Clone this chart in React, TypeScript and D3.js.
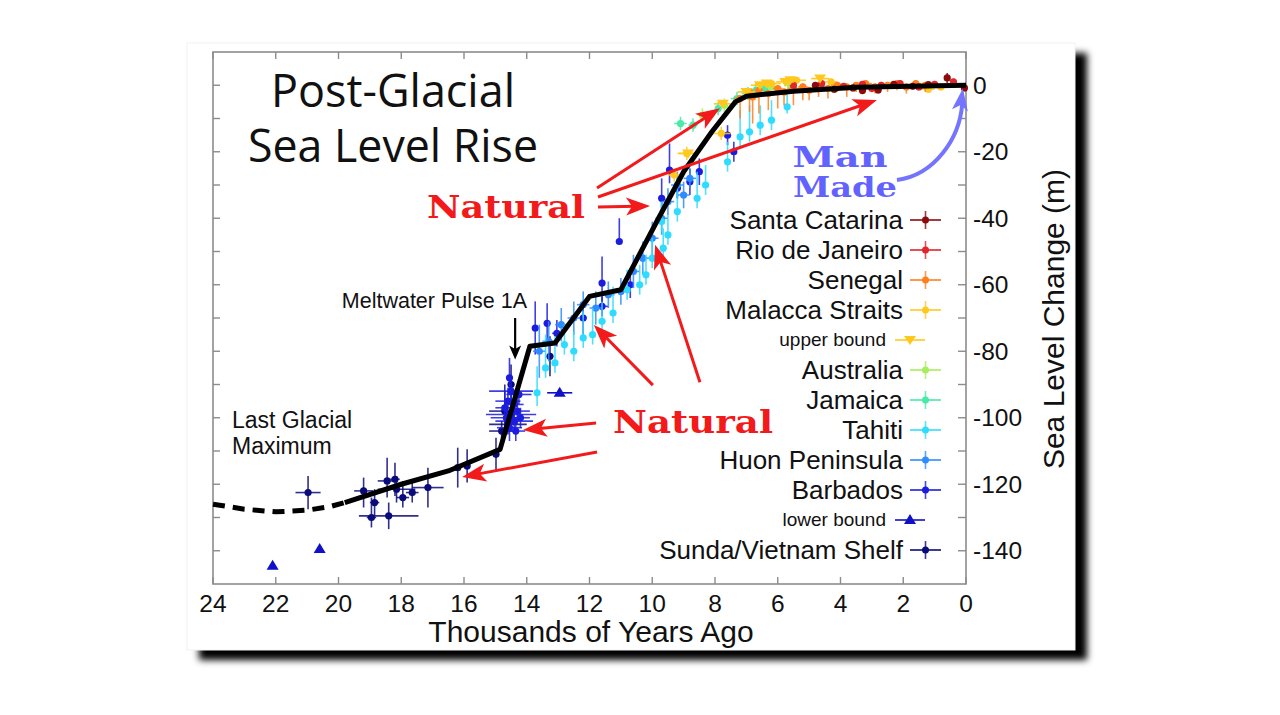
import React from "react";
import * as d3 from "d3";

type Pt = [number, number, number, number, number]; // age(ka), level(m), xErr, yErrUp, yErrDown

const xTicks = [24, 22, 20, 18, 16, 14, 12, 10, 8, 6, 4, 2, 0];
const yLabelTicks = [0, -20, -40, -60, -80, -100, -120, -140];
const yMinorTicks = [0, -10, -20, -30, -40, -50, -60, -70, -80, -90, -100, -110, -120, -130, -140];

const curveDashed: [number, number][] = [
  [24, -126], [23, -127.5], [22, -128.3], [21, -127.8], [20.3, -126.8], [19.8, -125.5],
];
const curveSolid: [number, number][] = [
  [19.8, -125.5], [18, -120], [16.5, -116], [14.85, -109.5], [13.9, -78.5], [13.1, -77.5],
  [12.0, -63.5], [11.0, -61.5], [9.8, -40], [9.0, -26], [8.1, -14], [7.35, -5], [7.0, -3.3],
  [5.5, -1.8], [3.5, -0.6], [0, 0],
];

const santaCatarina: Pt[] = [
  [4.8, 0, 0.1, 1, 1], [4.2, -1.2, 0.1, 1, 1], [3.6, -0.8, 0.1, 1, 1], [3.3, -1.6, 0.1, 1, 1],
  [2.8, -1.4, 0.1, 1, 1], [2.3, 0.3, 0.1, 1, 1], [1.7, -0.3, 0.1, 1, 1], [1.2, 0.2, 0.1, 1, 1],
  [0.6, 2.2, 0.1, 1.5, 1.5], [0.05, -0.8, 0.1, 1, 1],
];
const rioDeJaneiro: Pt[] = [
  [5.5, 0, 0.1, 1, 1], [4.6, 0.5, 0.1, 1, 1], [3.9, -0.3, 0.1, 1, 1], [3.0, -1, 0.1, 1, 1],
  [3.3, 0.3, 0.1, 1, 1], [2.7, 0, 0.1, 1, 1], [2.1, 0.5, 0.1, 1, 1], [1.5, -0.5, 0.1, 1, 1],
  [1.0, 0.3, 0.1, 1, 1], [0.4, 1, 0.1, 1, 1],
];
const senegal: Pt[] = [
  [7.2, -4, 0.2, 1, 6], [6.9, -2, 0.15, 1, 6], [6.8, -3.5, 0.2, 1, 8], [6.6, -1.5, 0.15, 1, 7],
  [6.3, -2.5, 0.2, 1, 5], [6.0, -1, 0.15, 1, 6], [5.8, -2, 0.2, 1, 4], [5.5, -1, 0.2, 1, 5],
  [5.2, -0.5, 0.15, 1, 4], [5.0, -1.5, 0.2, 1, 3], [4.7, -0.5, 0.2, 1, 3], [4.4, -1, 0.15, 1, 3],
  [4.1, 0, 0.2, 1, 2], [3.8, -0.5, 0.2, 1, 3], [3.5, 0, 0.15, 1, 2], [3.2, 0.5, 0.2, 1, 2],
  [2.9, -0.5, 0.15, 1, 2], [2.5, 0, 0.2, 1, 2], [2.2, 0.5, 0.15, 1, 2], [1.9, -0.5, 0.2, 1, 2],
  [1.6, 0.5, 0.15, 1, 1], [1.3, 0, 0.2, 1, 2],
];
const malacca: Pt[] = [
  [9.3, -27, 0.2, 2, 2], [8.9, -20.5, 0.3, 2, 2], [7.8, -14.5, 0.3, 2, 2], [6.2, 0.5, 0.3, 1, 1],
  [5.4, 1.5, 0.3, 1, 1], [4.3, 1, 0.2, 1, 1], [1.2, -1.2, 0.2, 1, 1], [0.8, -0.5, 0.2, 1, 1],
];
const upperBound: [number, number][] = [
  [8.86, -20.5], [7.75, -5.6], [7.0, -2], [6.57, 0], [6.35, 0.5], [5.76, 1], [5.6, 1.5], [4.65, 2],
];
const australia: Pt[] = [
  [8.4, -9, 0.15, 2, 2], [7.7, -6, 0.1, 2, 2], [6.2, -0.5, 0.2, 1, 1], [5.6, 0, 0.2, 1, 1],
];
const jamaica: Pt[] = [
  [9.1, -11.5, 0.2, 2, 2], [8.7, -12, 0.15, 2, 2], [7.9, -7, 0.1, 2, 2], [7.3, -4, 0.2, 2, 2],
  [6.95, -2.5, 0.2, 2, 2], [6.7, -1.5, 0.2, 2, 2], [6.4, -1, 0.2, 1, 1],
];
const tahiti: Pt[] = [
  [13.67, -92.5, 0.05, 8, 4], [13.4, -85, 0.05, 10, 3], [13.1, -83.5, 0.05, 8, 3], [12.8, -78, 0.05, 6, 3],
  [12.5, -80, 0.05, 6, 3], [12.2, -76, 0.05, 8, 3], [11.9, -75, 0.05, 8, 3], [11.6, -71, 0.05, 6, 3],
  [11.25, -68.5, 0.05, 8, 3], [10.8, -61.5, 0.05, 6, 3], [10.4, -60, 0.05, 6, 3], [10.2, -57, 0.05, 6, 3],
  [10.0, -52, 0.05, 6, 3], [9.65, -49, 0.05, 6, 3], [9.5, -45, 0.05, 6, 3], [9.7, -41, 0.05, 6, 3],
  [9.2, -38, 0.05, 8, 3], [8.57, -34, 0.05, 8, 3], [8.3, -30, 0.05, 6, 3], [7.6, -23, 0.05, 6, 3],
  [7.2, -15.5, 0.05, 8, 3], [6.9, -14, 0.05, 8, 3], [6.56, -12, 0.05, 6, 3], [6.2, -10.5, 0.05, 6, 3],
  [5.7, -6.5, 0.05, 5, 2],
];
const huon: Pt[] = [
  [13.6, -80, 0.2, 8, 8], [13.3, -77, 0.2, 6, 6], [12.9, -72, 0.2, 5, 5], [12.5, -70, 0.2, 5, 5],
  [12.2, -66, 0.2, 4, 4], [11.8, -67, 0.2, 5, 5], [11.4, -63, 0.2, 4, 4], [11.0, -62, 0.2, 4, 4],
  [10.6, -56, 0.2, 5, 5], [10.3, -52, 0.2, 5, 5], [10.0, -46, 0.2, 5, 5], [9.7, -40, 0.2, 5, 5],
  [9.5, -35, 0.2, 4, 4], [9.2, -30, 0.2, 4, 4], [9.0, -33, 0.2, 4, 4], [8.8, -28, 0.2, 3, 3],
];
const barbados: Pt[] = [
  [14.55, -88, 0.1, 6, 4], [14.5, -92, 0.7, 3, 3], [14.6, -95, 0.4, 4, 4], [14.4, -96, 0.3, 3, 3],
  [14.5, -99, 0.8, 3, 3], [14.3, -98, 0.4, 4, 4], [14.65, -100, 0.5, 3, 3], [14.4, -101, 0.6, 3, 3],
  [14.2, -100, 0.3, 3, 3], [14.55, -103, 0.4, 4, 4], [14.35, -104, 0.3, 3, 3], [14.7, -97, 0.3, 5, 5],
  [14.25, -93, 0.4, 3, 3], [13.73, -73, 0.05, 8, 8], [13.35, -71.6, 0.1, 6, 6], [13.04, -74.6, 0.15, 4, 4],
  [12.2, -70, 0.1, 5, 5], [11.6, -66.5, 0.2, 3, 3], [11.6, -59.5, 0.1, 8, 8], [11.05, -47, 0.05, 7, 0],
  [10.7, -60, 0.1, 4, 4], [9.7, -34, 0.1, 6, 6], [9.45, -25.5, 0.1, 8, 4], [9.2, -31, 0.1, 3, 3],
  [8.8, -29, 0.1, 4, 4], [8.5, -26, 0.1, 4, 4], [7.6, -15, 0.1, 3, 3], [7.4, -20, 0.1, 3, 3],
];
const lowerBound: [number, number, number][] = [
  [22.1, -144.5, 0], [20.6, -139.5, 0], [12.95, -92.5, 0.4],
];
const sunda: Pt[] = [
  [20.97, -122.5, 0.4, 5, 5], [19.2, -122, 0.3, 4, 5], [18.85, -125.5, 0.15, 4, 4], [18.95, -130, 0.15, 6, 3],
  [18.45, -119, 0.3, 7, 5], [18.4, -129.5, 0.95, 4, 4], [18.2, -118.5, 0.15, 5, 5], [18.15, -121.5, 0.6, 4, 4],
  [17.95, -124, 0.2, 5, 3], [17.65, -122.5, 0.2, 3, 3], [17.15, -121, 0.5, 6, 6], [16.2, -115, 0.1, 6, 6],
  [15.9, -114.5, 0.1, 5, 5], [14.98, -111, 0.1, 5, 5], [14.7, -98, 0.5, 8, 8], [14.6, -102, 0.6, 3, 3],
  [14.5, -90, 0.1, 6, 6], [14.8, -104, 0.4, 3, 3], [13.26, -81.5, 0.1, 6, 6],
];

const legendNames = [
  "Santa Catarina", "Rio de Janeiro", "Senegal", "Malacca Straits", "upper bound", "Australia",
  "Jamaica", "Tahiti", "Huon Peninsula", "Barbados", "lower bound", "Sunda/Vietnam Shelf",
];
const legendColors = [
  "#8b0a0a", "#e3242b", "#ff7f1e", "#ffc81e", "#ffc81e", "#a6ee5a",
  "#48eaa8", "#2fdcff", "#2e8cff", "#1c1ce0", "#1010c8", "#0a0a7a",
];
const legendKinds = ["pt", "pt", "pt", "pt", "down", "pt", "pt", "pt", "pt", "pt", "up", "pt"];

// annotation arrows in data coordinates: [tailAge, tailLevel, headAge, headLevel]
const redArrows: [number, number, number, number][] = [
  [11.76, -30.9, 7.84, -6.9],
  [11.73, -33.6, 2.84, -4.4],
  [11.73, -36.6, 10.07, -36.3],
  [9.98, -90.2, 11.86, -72.1],
  [8.48, -89.3, 9.91, -48.0],
  [11.79, -101.6, 14.12, -103.7],
  [11.76, -110.3, 16.06, -117.8],
];

const x = d3.scaleLinear().domain([24, 0]).range([213, 966]);
const y = d3.scaleLinear().domain([10, -150]).range([52, 584]);

function arrowHead(x1: number, y1: number, x2: number, y2: number, len: number, half: number) {
  const a = Math.atan2(y2 - y1, x2 - x1);
  const bx = x2 - len * Math.cos(a);
  const by = y2 - len * Math.sin(a);
  const nx = -Math.sin(a), ny = Math.cos(a);
  return `M${x2},${y2}L${bx + nx * half},${by + ny * half}L${bx + len * 0.25 * Math.cos(a)},${by + len * 0.25 * Math.sin(a)}L${bx - nx * half},${by - ny * half}Z`;
}

function Series({ data, color }: { data: Pt[]; color: string }) {
  return (
    <g>
      {data.map((d, i) => {
        const cx = x(d[0]), cy = y(d[1]);
        return (
          <g key={i}>
            {d[2] > 0 && (
              <line x1={x(d[0] + d[2])} x2={x(d[0] - d[2])} y1={cy} y2={cy} stroke={color} strokeWidth={1.6} strokeOpacity={0.85} />
            )}
            <line x1={cx} x2={cx} y1={y(d[1] + d[3])} y2={y(d[1] - d[4])} stroke={color} strokeWidth={1.6} strokeOpacity={0.85} />
            <circle cx={cx} cy={cy} r={3.6} fill={color} />
          </g>
        );
      })}
    </g>
  );
}

export default function App() {
  const line = d3.line<[number, number]>().x((d) => x(d[0])).y((d) => y(d[1]));
  const X0 = 213, X1 = 966, Y0 = 52, Y1 = 584;
  const frame = "#8c8c8c";
  const sans = "'Liberation Sans', Arial, sans-serif";
  const legendX = 903;
  const legendY0 = 220;
  const legendStep = 30;

  return (
    <svg width={1280} height={715} style={{ position: "absolute", left: 0, top: 0, display: "block", background: "#fff" }}>
      <defs>
        <filter id="shadow" x="-5%" y="-5%" width="115%" height="115%">
          <feDropShadow dx={12} dy={10} stdDeviation={3.5} floodColor="#000" floodOpacity={1} />
        </filter>
      </defs>
      <rect x={0} y={0} width={1280} height={715} fill="#fff" />
      <rect x={187} y={43} width={888} height={607} fill="#fff" filter="url(#shadow)" />
      <rect x={187} y={43} width={888} height={607} fill="none" stroke="#f2f2f2" strokeWidth={1} />

      {/* frame */}
      <rect x={X0} y={Y0} width={X1 - X0} height={Y1 - Y0} fill="none" stroke={frame} strokeWidth={1.6} />
      {xTicks.map((t) => (
        <g key={"xt" + t}>
          <line x1={x(t)} x2={x(t)} y1={Y1} y2={Y1 - 7} stroke={frame} strokeWidth={1.4} />
          <line x1={x(t)} x2={x(t)} y1={Y0} y2={Y0 + 7} stroke={frame} strokeWidth={1.4} />
          <text x={x(t)} y={612} textAnchor="middle" fontFamily={sans} fontSize={24.5} fill="#111">{t}</text>
        </g>
      ))}
      {yMinorTicks.map((t) => (
        <g key={"yt" + t}>
          <line x1={X0} x2={X0 + 7} y1={y(t)} y2={y(t)} stroke={frame} strokeWidth={1.4} />
          <line x1={X1} x2={X1 - 8} y1={y(t)} y2={y(t)} stroke={frame} strokeWidth={1.4} />
        </g>
      ))}
      {yLabelTicks.map((t) => (
        <text key={"yl" + t} x={973} y={y(t) + 8.5} fontFamily={sans} fontSize={24.5} fill="#111">{t === 0 ? "0" : "-" + Math.abs(t)}</text>
      ))}
      <text x={591} y={642} textAnchor="middle" fontFamily={sans} fontSize={30} fill="#111">Thousands of Years Ago</text>
      <text transform={`translate(1064,319) rotate(-90)`} textAnchor="middle" fontFamily={sans} fontSize={30} fill="#111">Sea Level Change (m)</text>

      {/* title */}
      <text x={393} y={107} textAnchor="middle" fontFamily="'Open Sans', 'Noto Sans', sans-serif" fontSize={45} fill="#111" textLength={244} lengthAdjust="spacingAndGlyphs">Post-Glacial</text>
      <text x={393} y={162} textAnchor="middle" fontFamily="'Open Sans', 'Noto Sans', sans-serif" fontSize={45} fill="#111" textLength={290} lengthAdjust="spacingAndGlyphs">Sea Level Rise</text>

      {/* data */}
      <Series data={sunda} color={legendColors[11]} />
      <Series data={barbados} color={legendColors[9]} />
      <Series data={huon} color={legendColors[8]} />
      <Series data={tahiti} color={legendColors[7]} />
      <Series data={jamaica} color={legendColors[6]} />
      <Series data={australia} color={legendColors[5]} />
      <Series data={malacca} color={legendColors[3]} />
      <Series data={senegal} color={legendColors[2]} />
      <Series data={rioDeJaneiro} color={legendColors[1]} />
      <Series data={santaCatarina} color={legendColors[0]} />
      {upperBound.map((d, i) => {
        const cx = x(d[0]), cy = y(d[1]);
        return (
          <g key={"ub" + i}>
            <line x1={cx - 9} x2={cx + 9} y1={cy} y2={cy} stroke={legendColors[4]} strokeWidth={1.6} />
            <path d={`M${cx - 6},${cy - 4}L${cx + 6},${cy - 4}L${cx},${cy + 5}Z`} fill={legendColors[4]} />
          </g>
        );
      })}
      {lowerBound.map((d, i) => {
        const cx = x(d[0]), cy = y(d[1]);
        return (
          <g key={"lb" + i}>
            {d[2] > 0 && <line x1={x(d[0] + d[2])} x2={x(d[0] - d[2])} y1={cy} y2={cy} stroke={legendColors[10]} strokeWidth={1.6} />}
            <path d={`M${cx - 6},${cy + 4}L${cx + 6},${cy + 4}L${cx},${cy - 6}Z`} fill={legendColors[10]} />
          </g>
        );
      })}

      {/* black curve */}
      <path d={line(curveDashed) || ""} fill="none" stroke="#000" strokeWidth={5} strokeDasharray="12,8" />
      <path d={line(curveSolid) || ""} fill="none" stroke="#000" strokeWidth={5} strokeLinejoin="round" />

      {/* legend */}
      {legendNames.map((name, i) => {
        const ly = legendY0 + i * legendStep;
        const c = legendColors[i];
        const kind = legendKinds[i];
        if (kind === "pt") {
          return (
            <g key={name}>
              <text x={legendX} y={ly + 9} textAnchor="end" fontFamily={sans} fontSize={26} fill="#111">{name}</text>
              <line x1={910} x2={941} y1={ly} y2={ly} stroke={c} strokeWidth={1.6} />
              <line x1={925.5} x2={925.5} y1={ly - 9} y2={ly + 9} stroke={c} strokeWidth={1.6} strokeOpacity={0.8} />
              <circle cx={925.5} cy={ly} r={3.5} fill={c} />
            </g>
          );
        }
        const tri = kind === "down"
          ? `M${904},${ly - 4}L${916},${ly - 4}L${910},${ly + 5}Z`
          : `M${904},${ly + 4}L${916},${ly + 4}L${910},${ly - 6}Z`;
        return (
          <g key={name}>
            <text x={886} y={ly + 6} textAnchor="end" fontFamily={sans} fontSize={19} fill="#111">{name}</text>
            <line x1={895} x2={925} y1={ly} y2={ly} stroke={c} strokeWidth={1.6} />
            <path d={tri} fill={c} />
          </g>
        );
      })}

      {/* annotations */}
      <text x={527} y={308} textAnchor="end" fontFamily={sans} fontSize={21.5} fill="#111">Meltwater Pulse 1A</text>
      <line x1={x(14.37)} x2={x(14.37)} y1={y(-70)} y2={y(-80)} stroke="#000" strokeWidth={2.2} />
      <path d={arrowHead(x(14.37), y(-70), x(14.37), y(-82.5), 14, 6)} fill="#000" />
      <text x={232} y={428} fontFamily={sans} fontSize={23} fill="#111">Last Glacial</text>
      <text x={232} y={454} fontFamily={sans} fontSize={23} fill="#111">Maximum</text>

      {redArrows.map((a, i) => {
        const x1 = x(a[0]), y1 = y(a[1]), x2 = x(a[2]), y2 = y(a[3]);
        const ang = Math.atan2(y2 - y1, x2 - x1);
        return (
          <g key={"ra" + i}>
            <line x1={x1} y1={y1} x2={x2 - 14 * Math.cos(ang)} y2={y2 - 14 * Math.sin(ang)} stroke="#f21a1a" strokeWidth={3} />
            <path d={arrowHead(x1, y1, x2, y2, 24, 9)} fill="#f21a1a" />
          </g>
        );
      })}
      <text x={506} y={218} textAnchor="middle" fontFamily="'DejaVu Serif', serif" fontWeight="bold" fontSize={32} fill="#f21a1a" textLength={158} lengthAdjust="spacingAndGlyphs">Natural</text>
      <text x={693} y={433} textAnchor="middle" fontFamily="'DejaVu Serif', serif" fontWeight="bold" fontSize={32} fill="#f21a1a" textLength={160} lengthAdjust="spacingAndGlyphs">Natural</text>

      <text x={840} y={167} textAnchor="middle" fontFamily="'DejaVu Serif', serif" fontWeight="bold" fontSize={28} fill="#6262ff" textLength={95} lengthAdjust="spacingAndGlyphs">Man</text>
      <text x={845} y={197} textAnchor="middle" fontFamily="'DejaVu Serif', serif" fontWeight="bold" fontSize={28} fill="#6262ff" textLength={104} lengthAdjust="spacingAndGlyphs">Made</text>
      {(() => {
        const sx = x(2.2), sy = y(-28.5), ex = x(0.1), ey = y(-1);
        const c1x = x(1.0), c1y = y(-27), c2x = x(0.2), c2y = y(-16);
        const bx = x(0.12), by = y(-5.5);
        return (
          <g>
            <path d={`M${sx},${sy}C${c1x},${c1y} ${c2x},${c2y} ${bx},${by}`} fill="none" stroke="#7474ff" strokeWidth={4} />
            <path d={arrowHead(x(0.2), y(-8), ex, ey, 22, 8)} fill="#7474ff" />
          </g>
        );
      })()}
    </svg>
  );
}
